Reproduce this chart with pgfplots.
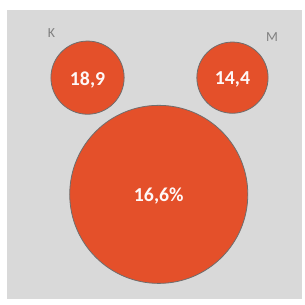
\documentclass[border=0pt]{standalone}
\usepackage{pgfplots}
\pgfplotsset{compat=1.18}
\usepackage{fontspec}
\setmainfont{Carlito}
\definecolor{bggray}{HTML}{D9D9D9}
\definecolor{bub}{HTML}{E4502A}
\definecolor{edge}{HTML}{6E6E6E}
\definecolor{lab}{HTML}{808080}
\begin{document}
\begin{tikzpicture}
\begin{axis}[
  x=1pt, y=1pt,
  xmin=0, xmax=305, ymin=0, ymax=303,
  axis line style={draw=none},
  ticks=none,
  clip=false,
  nodes near coords,
  point meta=explicit symbolic,
  every node near coord/.append style={anchor=center, yshift=-2pt, text=white!96!bub, font=\fontsize{20}{22}\selectfont\bfseries},
]
\addplot[fill=bggray, draw=none, nodes near coords={}] coordinates {(7,1) (305,1) (305,293) (7,293)} -- cycle;
\addplot[only marks, mark=*, mark size=37pt, mark options={fill=bub, draw=edge, line width=0.8pt}]
  coordinates {(88.5,224.5) [18,9]};
\addplot[only marks, mark=*, mark size=36pt, mark options={fill=bub, draw=edge, line width=0.8pt}]
  coordinates {(235,224.5) [14,4]};
\addplot[only marks, mark=*, mark size=90pt, mark options={fill=bub, draw=edge, line width=0.8pt}]
  coordinates {(160.5,106.5) [16,6\%]};
\node[text=lab, font=\fontsize{14}{15}\selectfont] at (axis cs:52,270) {K};
\node[text=lab, font=\fontsize{14}{15}\selectfont] at (axis cs:275,266) {M};
\end{axis}
\end{tikzpicture}
\end{document}
